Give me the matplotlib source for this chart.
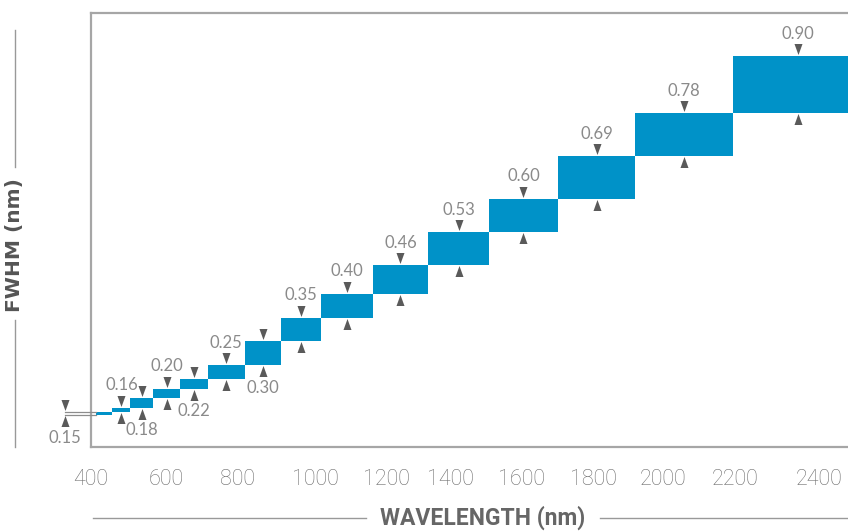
import matplotlib
matplotlib.use('Agg')
import matplotlib.pyplot as plt
from matplotlib.path import Path
from matplotlib.lines import Line2D
from matplotlib.transforms import ScaledTranslation

# ---------------- data ----------------
fwhm = [0.15, 0.16, 0.18, 0.20, 0.22, 0.25, 0.30, 0.35, 0.40, 0.46, 0.53, 0.60, 0.69, 0.78, 0.90]
fwhm_labels = ['0.15', '0.16', '0.18', '0.20', '0.22', '0.25', '0.30', '0.35', '0.40',
               '0.46', '0.53', '0.60', '0.69', '0.78', '0.90']
band_edges_nm = [413, 459, 508, 571, 644, 722, 822, 923, 1031, 1175, 1326, 1494, 1683, 1896, 2164, 2520]
first_band_floor = 0.1447
label_side = ['below', 'above', 'below', 'above', 'below', 'above', 'below',
              'above', 'above', 'above', 'above', 'above', 'above', 'above', 'above']
tick_labels = ['400', '600', '800', '1000', '1200', '1400', '1600', '1800', '2000', '2200', '2400']
tick_positions = [400, 606, 803, 1017, 1212, 1387, 1582, 1780, 1972, 2171, 2400]

# ---------------- style ----------------
W, H = 848, 531
BLUE = '#0092c8'
ARROW = '#5a5a5a'
FRAME = '#a6a6a6'
RULE = '#999999'
PT = 72.0 / 100.0  # points per pixel

fig = plt.figure(figsize=(W / 100, H / 100), dpi=100)
ax_left_px, ax_right_px, ax_top_px, ax_bot_px = 91, 870, 13, 447
ax = fig.add_axes([ax_left_px / W, 1 - ax_bot_px / H,
                   (ax_right_px - ax_left_px) / W, (ax_bot_px - ax_top_px) / H])

px_per_nm = 0.366
ax.set_xlim(400 + (ax_left_px - 86.5) / px_per_nm, 400 + (ax_right_px - 86.5) / px_per_nm)
ax.set_ylim(0.07732, 0.9916)

for s in ['left', 'top', 'bottom']:
    ax.spines[s].set_color(FRAME)
    ax.spines[s].set_linewidth(1.6)
ax.spines['right'].set_visible(False)
ax.set_yticks([])
ax.set_xticks(tick_positions)
ax.set_xticklabels(tick_labels, family='Roboto', fontweight='light', fontsize=15.5, color='#6e6e6e')
ax.tick_params(axis='x', length=0, pad=15.5)

# bands
bottoms = [first_band_floor] + fwhm[:-1]
lefts = band_edges_nm[:-1]
widths = [b - a for a, b in zip(band_edges_nm[:-1], band_edges_nm[1:])]
heights = [t - b for t, b in zip(fwhm, bottoms)]
ax.bar(lefts, heights, width=widths, bottom=bottoms, align='edge', color=BLUE, linewidth=0)

# arrow markers (tip at the data point, body pointing away from the band)
h_px, hw_px, g_dn, g_up = 11.0, 4.0, 1.5, 0.5
down_verts = [(-hw_px, g_dn + h_px), (hw_px, g_dn + h_px), (0, g_dn), (-hw_px, g_dn + h_px)]
up_verts = [(-hw_px, -(g_up + h_px)), (hw_px, -(g_up + h_px)), (0, -g_up), (-hw_px, -(g_up + h_px))]
codes = [Path.MOVETO, Path.LINETO, Path.LINETO, Path.CLOSEPOLY]
down_m = Path(down_verts, codes)
up_m = Path(up_verts, codes)
ms_dn = 2 * (g_dn + h_px) * PT
ms_up = 2 * (g_up + h_px) * PT

label_off = 22.5 * PT
ext_px = 31.0
shift_left = ScaledTranslation(-ext_px / 100, 0, fig.dpi_scale_trans)

for i, (v, b, lab, side) in enumerate(zip(fwhm, bottoms, fwhm_labels, label_side)):
    if i == 0:
        xa = band_edges_nm[0]
        trans = ax.transData + shift_left
        # dimension extension lines to the left of the first band
        for yy in (v + 0.0019, b - 0.0010):
            x_disp, y_disp = ax.transData.transform((xa, yy))
            fig.add_artist(Line2D([(x_disp - ext_px) / W, x_disp / W], [y_disp / H, y_disp / H],
                                  color='#8c8c8c', lw=0.9))
    else:
        xa = 0.5 * (band_edges_nm[i] + band_edges_nm[i + 1])
        trans = ax.transData
    ax.plot([xa], [v], marker=down_m, markersize=ms_dn, color=ARROW, mew=0,
            transform=trans, clip_on=False, linestyle='none')
    ax.plot([xa], [b], marker=up_m, markersize=ms_up, color=ARROW, mew=0,
            transform=trans, clip_on=False, linestyle='none')
    yref, off = (v, label_off) if side == 'above' else (b, -label_off)
    ax.annotate(lab, xy=(xa, yref), xycoords=trans, xytext=(0, off),
                textcoords='offset points', ha='center', va='center',
                family='Lato', fontweight='normal', fontsize=12, color='#8a8a8a',
                annotation_clip=False)

# y label with rules
fig.text(15 / W, 1 - 245 / H, 'FWHM (nm)', rotation=90, ha='center', va='center',
         family='DejaVu Sans', fontweight='bold', fontsize=14.5, color='#555555')
fig.add_artist(Line2D([15 / W, 15 / W], [1 - 30 / H, 1 - 167 / H], color=RULE, lw=1))
fig.add_artist(Line2D([15 / W, 15 / W], [1 - 320 / H, 1 - 447 / H], color=RULE, lw=1))

# x label with rules
fig.text(483 / W, 6 / H, 'WAVELENGTH (nm)', ha='center', va='baseline',
         family='Roboto', fontweight='bold', fontsize=16.5, color='#666666')
fig.add_artist(Line2D([92.7 / W, 366 / W], [1 - 518 / H] * 2, color=RULE, lw=1))
fig.add_artist(Line2D([600 / W, 848 / W], [1 - 518 / H] * 2, color=RULE, lw=1))

fig.savefig('out.png', dpi=100)
